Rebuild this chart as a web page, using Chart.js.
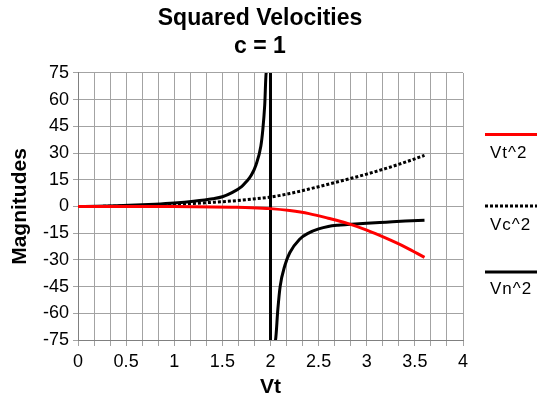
<!DOCTYPE html>
<html>
<head>
<meta charset="utf-8">
<script src="https://cdn.jsdelivr.net/npm/chart.js@4/dist/chart.umd.min.js"></script>
<style>
html,body{margin:0;padding:0;background:#fff;}
#wrap{width:537px;height:400px;}
</style>
</head>
<body>
<div id="wrap"><canvas id="c" width="537" height="400"></canvas></div>
<script>
// ---- data ----
const seriesNames = ['Vt^2', 'Vc^2', 'Vn^2'];

const xMain = [0, 0.2, 0.4, 0.6, 0.8, 1.0, 1.2, 1.4, 1.6, 1.8, 2.0, 2.2, 2.4, 2.6, 2.8, 3.0, 3.2, 3.4, 3.6];
const vt2   = [0, 0, 0, -0.01, -0.03, -0.06, -0.12, -0.22, -0.4, -0.65, -1.2, -2.3, -4.0, -6.6, -9.5, -13.3, -17.8, -22.8, -28.6];
const vc2   = [0, 0.04, 0.17, 0.4, 0.72, 1.15, 1.7, 2.35, 3.1, 4.1, 5.3, 7.3, 9.8, 12.5, 15.3, 18.2, 21.4, 24.9, 28.7];

const xVn = [0, 0.2, 0.4, 0.6, 0.8, 1.0, 1.2, 1.4, 1.5, 1.6, 1.7, 1.75, 1.8, 1.85, 1.9, 1.92, 1.94, 1.955, 1.97, 1.999,
             2.001, 2.03, 2.052, 2.076, 2.1, 2.15, 2.2, 2.3, 2.4, 2.5, 2.6, 2.7, 2.8, 3.0, 3.2, 3.4, 3.6];
const vn2 = [0, 0.1, 0.4, 0.8, 1.3, 2.0, 3.0, 4.4, 5.5, 7.8, 11.2, 14.0, 17.5, 23.5, 34, 43, 57, 75, 110, 3000,
             -3000, -130, -75, -58, -45, -33, -26, -18.5, -14.8, -12.6, -11.2, -10.5, -10.1, -9.4, -8.8, -8.2, -7.7];

const xTickValues = [0, 0.5, 1, 1.5, 2, 2.5, 3, 3.5, 4];
const xTickLabels = ['0', '0.5', '1', '1.5', '2', '2.5', '3', '3.5', '4'];
const yTickValues = [-75, -60, -45, -30, -15, 0, 15, 30, 45, 60, 75];
const yTickLabels = ['-75', '-60', '-45', '-30', '-15', '0', '15', '30', '45', '60', '75'];

// ---- chart ----
const pts = (xs, ys) => xs.map((x, i) => ({x: x, y: ys[i]}));
const minorX = Array.from({length: 25}, (_, i) => i / 6); // vertical grid every 1/6

Chart.defaults.font.family = "'Liberation Sans', Arial, Helvetica, sans-serif";
Chart.defaults.color = '#000';

const sideLegend = {
  id: 'sideLegend',
  afterDraw(chart) {
    const ctx = chart.ctx;
    const rows = [{line: 134.5, text: 153}, {line: 206, text: 225}, {line: 272, text: 289}];
    chart.data.datasets.forEach((ds, i) => {
      const r = rows[i];
      ctx.save();
      ctx.strokeStyle = ds.borderColor;
      ctx.lineWidth = ds.borderWidth;
      ctx.setLineDash(ds.borderDash || []);
      ctx.beginPath();
      ctx.moveTo(485, r.line);
      ctx.lineTo(537, r.line);
      ctx.stroke();
      ctx.setLineDash([]);
      ctx.fillStyle = '#000';
      ctx.font = "17px 'Liberation Sans', Arial, sans-serif";
      ctx.textBaseline = 'middle';
      ctx.textAlign = 'left';
      try { ctx.letterSpacing = '1px'; } catch (e) {}
      ctx.fillText(ds.label, 490, r.text);
      ctx.restore();
    });
  }
};

const gridColor = '#a3a3a3';

new Chart(document.getElementById('c'), {
  type: 'line',
  data: {
    datasets: [
      {label: seriesNames[0], data: pts(xMain, vt2), borderColor: '#ff0000', borderWidth: 3,
       pointRadius: 0, cubicInterpolationMode: 'monotone', fill: false},
      {label: seriesNames[1], data: pts(xMain, vc2), borderColor: '#000000', borderWidth: 3, borderDash: [3, 2],
       pointRadius: 0, cubicInterpolationMode: 'monotone', fill: false},
      {label: seriesNames[2], data: pts(xVn, vn2), borderColor: '#000000', borderWidth: 3,
       pointRadius: 0, cubicInterpolationMode: 'monotone', fill: false}
    ]
  },
  options: {
    responsive: false,
    animation: false,
    devicePixelRatio: 1,
    layout: {padding: {left: 0, right: 17, top: 0, bottom: 0}},
    plugins: {
      legend: {display: false},
      tooltip: {enabled: false},
      title: {
        display: true,
        text: ['Squared Velocities', 'c = 1'],
        color: '#000',
        font: {size: 23, weight: 'bold', lineHeight: 1.217},
        padding: {top: 5, bottom: 12}
      }
    },
    scales: {
      x: {
        type: 'linear', min: 0, max: 4,
        afterBuildTicks: (s) => { s.ticks = minorX.map(v => ({value: v})); },
        afterFit: (s) => { s.height = 60; },
        ticks: {
          autoSkip: false, maxRotation: 0, minRotation: 0, padding: 5,
          font: {size: 18}, color: '#000',
          callback: (v) => {
            const k = xTickValues.findIndex(t => Math.abs(t - v) < 1e-6);
            return k >= 0 ? xTickLabels[k] : '';
          }
        },
        grid: {color: gridColor, tickColor: gridColor, tickLength: 6, lineWidth: 1},
        border: {color: '#808080', width: 1},
        title: {display: true, text: 'Vt', color: '#000', font: {size: 21, weight: 'bold'}, padding: {top: 4, bottom: 0}}
      },
      y: {
        type: 'linear', min: -75, max: 75, position: 'left',
        afterFit: (s) => { s.width = 78; },
        afterBuildTicks: (s) => { s.ticks = yTickValues.map(v => ({value: v})); },
        ticks: {
          padding: 4, font: {size: 18}, color: '#000',
          callback: (v) => {
            const k = yTickValues.indexOf(v);
            return k >= 0 ? yTickLabels[k] : '';
          }
        },
        grid: {color: gridColor, tickColor: gridColor, tickLength: 5, lineWidth: 1},
        border: {color: '#808080', width: 1},
        title: {display: true, text: 'Magnitudes', color: '#000', font: {size: 21, weight: 'bold'}, padding: {top: 8, bottom: 4}}
      },
      y2: {
        type: 'linear', position: 'right', display: true,
        afterFit: (s) => { s.width = 57; },
        grid: {display: false, drawTicks: false},
        ticks: {display: false},
        border: {display: false}
      }
    }
  },
  plugins: [sideLegend]
});
</script>
</body>
</html>
